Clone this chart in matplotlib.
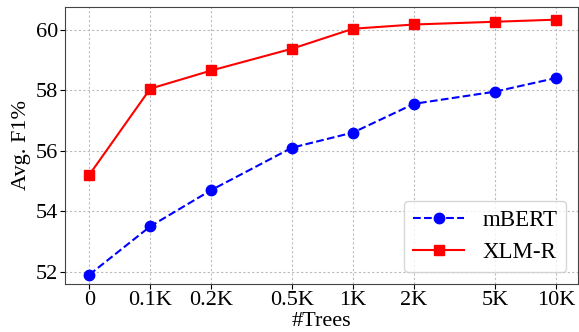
import numpy as np
import matplotlib
matplotlib.use('Agg')
import matplotlib.pyplot as plt

plt.rcParams['font.family'] = ['Liberation Serif', 'DejaVu Serif']

## data
tree_labels = ['0', '0.1K', '0.2K', '0.5K', '1K', '2K', '5K', '10K']
tree_counts = [50, 100, 200, 500, 1000, 2000, 5000, 10000]   # "0" drawn one step left of 0.1K
mbert = [51.9, 53.5, 54.7, 56.1, 56.6, 57.55, 57.95, 58.4]
xlmr = [55.2, 58.05, 58.65, 59.37, 60.03, 60.17, 60.26, 60.33]

fig, ax = plt.subplots(figsize=(5.79, 3.32), dpi=100)

ax.plot(tree_counts, mbert, 'b--', marker='o', markersize=7.5, label='mBERT')
ax.plot(tree_counts, xlmr, 'r-', marker='s', markersize=7.5, label='XLM-R')

ax.set_xscale('log')
ax.set_xticks(tree_counts)
ax.set_xticklabels(tree_labels)
ax.minorticks_off()
ax.set_xlim(50 * 2 ** -0.39, 10000 * 2 ** 0.36)
ax.set_ylim(51.6, 60.76)
ax.set_yticks([52, 54, 56, 58, 60])

ax.tick_params(labelsize=16, pad=2)
ax.set_xlabel('#Trees', fontsize=16, labelpad=1)
ax.set_ylabel('Avg. F1%', fontsize=16, labelpad=3)
ax.grid(True, linestyle=(0, (2, 2)), color='#bbbbbb', linewidth=0.8)
for s in ax.spines.values():
    s.set_color('#444444')

ax.legend(loc='lower right', fontsize=16.5, handlelength=2.2)

plt.subplots_adjust(left=0.113, right=0.998, top=0.98, bottom=0.145)
plt.savefig('out.png')
